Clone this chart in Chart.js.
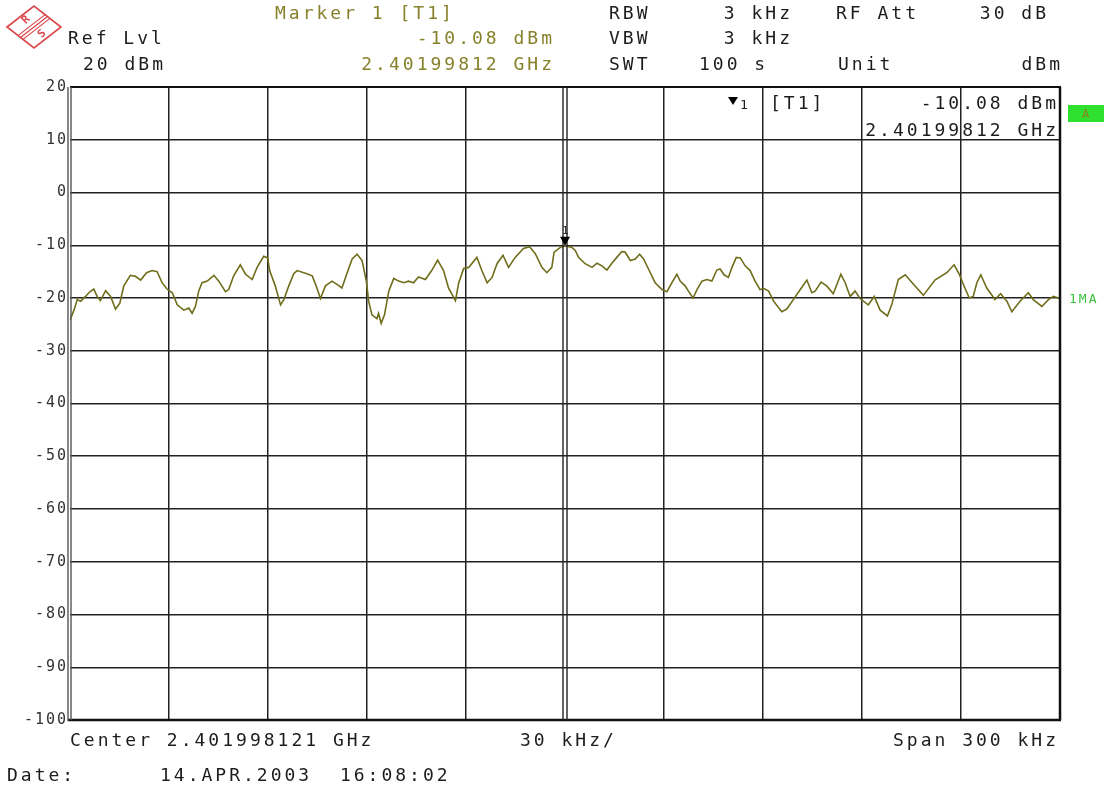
<!DOCTYPE html>
<html>
<head>
<meta charset="utf-8">
<script src="https://cdn.jsdelivr.net/npm/chart.js@4.4.1/dist/chart.umd.min.js"></script>
<style>
  html, body { margin: 0; padding: 0; background: #ffffff; }
  #wrap { position: relative; width: 1112px; height: 787px; }
</style>
</head>
<body>
<div id="wrap"><canvas id="spectrum"></canvas></div>
<script>
// Sweep trace: frequency offset from centre (kHz) and measured level (dBm)
const freqOffsetKHz = [
  -150.0, -148.8, -147.8, -146.8, -145.3, -144.3, -142.8, -141.8, -140.8, -139.2,
  -137.7, -136.2, -134.9, -133.7, -131.7, -130.2, -128.6, -126.8, -125.1, -123.6,
  -122.1, -120.6, -119.0, -117.5, -115.5, -114.0, -113.0, -112.0, -111.0, -110.0,
  -108.4, -106.4, -104.9, -102.9, -101.9, -100.4, -98.4, -96.8, -94.8, -93.3,
  -91.3, -90.1, -89.5, -87.8, -86.2, -85.2, -83.7, -82.2, -81.2, -78.2,
  -76.6, -75.6, -74.1, -72.6, -70.6, -69.1, -67.6, -66.0, -64.5, -63.0,
  -61.5, -60.2, -59.5, -58.5, -57.0, -56.5, -55.7, -54.7, -53.4, -51.9,
  -50.4, -48.9, -47.4, -45.9, -44.4, -42.3, -40.3, -38.6, -36.8, -35.3,
  -33.2, -32.2, -30.7, -29.2, -26.7, -25.2, -23.6, -22.1, -20.6, -18.8,
  -17.1, -15.1, -12.6, -10.7, -9.0, -7.0, -5.5, -4.0, -3.3, -1.4,
  0.0, 0.6, 2.1, 3.1, 4.1, 6.1, 8.2, 9.7, 11.2, 12.7,
  14.2, 15.7, 17.2, 18.2, 19.8, 21.3, 22.6, 23.8, 25.3, 27.3,
  29.4, 30.9, 32.4, 33.9, 34.9, 36.4, 37.4, 38.8, 40.0, 41.5,
  43.0, 44.5, 46.0, 47.0, 48.2, 49.5, 50.6, 51.9, 53.1, 54.6,
  56.1, 57.6, 59.1, 60.3, 61.7, 63.2, 65.7, 67.2, 69.2, 71.3,
  73.3, 74.8, 75.8, 77.6, 79.3, 81.3, 83.6, 84.9, 86.4, 87.9,
  89.4, 91.9, 93.7, 95.5, 97.7, 99.0, 101.0, 103.1, 105.6, 108.6,
  112.1, 115.7, 117.9, 119.5, 120.7, 122.5, 123.7, 124.8, 126.0, 127.8,
  130.3, 132.0, 133.9, 135.4, 137.9, 140.4, 141.9, 144.5, 146.5, 148.0,
  150.0
];
const levelDbm = [
  -24.2, -22.3, -20.3, -20.6, -19.7, -19.0, -18.3, -19.7, -20.5, -18.6,
  -19.7, -22.1, -21.0, -17.7, -15.7, -15.9, -16.6, -15.2, -14.8, -15.0,
  -17.1, -18.3, -19.0, -21.3, -22.3, -21.9, -22.9, -21.6, -18.7, -17.1,
  -16.8, -15.7, -16.8, -18.8, -18.4, -15.8, -13.7, -15.5, -16.5, -14.2,
  -12.1, -12.4, -14.8, -17.7, -21.3, -20.3, -17.7, -15.4, -14.8, -15.4,
  -15.8, -17.4, -20.1, -17.7, -16.8, -17.4, -18.1, -15.2, -12.6, -11.7,
  -12.9, -16.8, -20.6, -23.2, -23.9, -22.9, -24.8, -23.2, -18.7, -16.3,
  -16.8, -17.1, -16.8, -17.1, -16.0, -16.5, -14.7, -12.8, -14.8, -18.1,
  -20.5, -17.1, -14.4, -14.2, -12.3, -14.8, -17.1, -16.1, -13.5, -11.9,
  -14.2, -12.3, -10.6, -10.3, -11.6, -14.2, -15.2, -14.2, -11.3, -10.4,
  -10.08, -10.2, -10.4, -11.0, -12.3, -13.5, -14.2, -13.4, -13.9, -14.7,
  -13.4, -12.3, -11.2, -11.3, -12.9, -12.6, -11.7, -12.6, -14.5, -17.1,
  -18.4, -18.8, -17.1, -15.5, -16.8, -17.7, -18.7, -20.0, -18.4, -16.8,
  -16.5, -16.8, -14.7, -14.5, -15.6, -16.1, -14.2, -12.3, -12.4, -13.9,
  -14.8, -16.8, -18.4, -18.2, -18.7, -20.6, -22.6, -22.1, -20.3, -18.4,
  -16.6, -19.0, -18.7, -17.0, -17.7, -19.2, -15.5, -17.1, -19.7, -18.7,
  -20.1, -21.3, -19.7, -22.3, -23.4, -21.3, -16.5, -15.6, -17.4, -19.5,
  -16.6, -15.2, -13.7, -15.5, -17.4, -20.0, -19.7, -17.1, -15.6, -18.1,
  -20.3, -19.2, -20.6, -22.6, -20.6, -19.0, -20.3, -21.6, -20.3, -19.7,
  -20.1
];

// Axis ranges: 30 kHz per division over a 300 kHz span, 10 dB per division
const spanKHz = [-150, 150];
const freqStepKHz = 30;
const levelRangeDbm = [-100, 20];
const levelStepDb = 10;

// Marker 1 and the trace reference line
const markerFreqKHz = [0];
const markerLevelDbm = [-10.08];
const traceRefLevelDbm = [-20];

const MONO = "'DejaVu Sans Mono', 'Liberation Mono', monospace";
const INK = '#1c1c1c';
const OLIVE = '#87812b';
const TRACE = '#6f6c1a';

function drawText(ctx, s, x, yb, align, color, size, spacing) {
  ctx.font = size + 'px ' + MONO;
  ctx.letterSpacing = spacing + 'px';
  ctx.fillStyle = color;
  ctx.textAlign = align;
  ctx.textBaseline = 'alphabetic';
  ctx.fillText(s, align === 'right' ? x + spacing : x, yb);
}

function line(ctx, x1, y1, x2, y2, color, w) {
  ctx.beginPath();
  ctx.strokeStyle = color;
  ctx.lineWidth = w;
  ctx.moveTo(x1, y1);
  ctx.lineTo(x2, y2);
  ctx.stroke();
}

function drawLogo(ctx) {
  const cx = 34, cy = 27, hw = 27, hh = 21;
  const red = '#d8474a';
  ctx.save();
  ctx.strokeStyle = red;
  ctx.lineWidth = 1.6;
  ctx.beginPath();
  ctx.moveTo(cx - hw, cy); ctx.lineTo(cx, cy - hh);
  ctx.lineTo(cx + hw, cy); ctx.lineTo(cx, cy + hh);
  ctx.closePath();
  ctx.stroke();
  // diagonal band from the lower-left edge to the upper-right edge
  const ax = cx - hw / 2, ay = cy + hh / 2, bx = cx + hw / 2, by = cy - hh / 2;
  const len = Math.hypot(bx - ax, by - ay);
  const nx = -(by - ay) / len, ny = (bx - ax) / len;
  [-3, 0, 3].forEach(o => line(ctx, ax + nx * o, ay + ny * o, bx + nx * o, by + ny * o, red, 1.2));
  ctx.fillStyle = red;
  ctx.font = 'bold 11px ' + MONO;
  ctx.letterSpacing = '0px';
  ctx.textAlign = 'center';
  ctx.textBaseline = 'middle';
  ctx.save(); ctx.translate(cx - 8, cy - 7); ctx.rotate(-Math.PI / 4); ctx.fillText('R', 0, 0); ctx.restore();
  ctx.save(); ctx.translate(cx + 8, cy + 7); ctx.rotate(-Math.PI / 4); ctx.fillText('S', 0, 0); ctx.restore();
  ctx.restore();
}

const analyzerFrame = {
  id: 'analyzerFrame',
  beforeDraw(chart) {
    // tick labels use the analyser's wide character pitch
    chart.ctx.letterSpacing = '2px';
  },
  afterDatasetsDraw(chart) {
    const { ctx, chartArea: a, scales: { x, y } } = chart;
    ctx.save();
    // plot frame
    line(ctx, a.left, a.top, a.right + 1, a.top, '#111', 2);
    line(ctx, a.right, a.top, a.right, a.bottom, '#111', 2.5);
    line(ctx, a.left - 2, a.bottom, a.right + 1, a.bottom, '#111', 2.5);
    line(ctx, a.left - 2, a.top, a.left - 2, a.bottom + 1, '#555', 1.4);
    line(ctx, a.left + 1, a.top, a.left + 1, a.bottom, '#555', 1.4);
    // centre frequency / marker double line
    const cxp = x.getPixelForValue(markerFreqKHz[0]);
    line(ctx, cxp - 2, a.top, cxp - 2, a.bottom, '#222', 1.4);
    line(ctx, cxp + 2, a.top, cxp + 2, a.bottom, '#222', 1.4);

    // marker 1 symbol on the trace
    const mx = x.getPixelForValue(markerFreqKHz[0]);
    const my = y.getPixelForValue(markerLevelDbm[0]);
    ctx.beginPath();
    ctx.fillStyle = '#000';
    ctx.moveTo(mx - 5, my - 9);
    ctx.lineTo(mx + 5, my - 9);
    ctx.lineTo(mx, my);
    ctx.closePath();
    ctx.fill();
    drawText(ctx, '1', mx - 3, my - 12, 'left', '#222', 11, 0);

    // marker readout inside the grid
    ctx.beginPath();
    ctx.fillStyle = '#000';
    ctx.moveTo(728, 97); ctx.lineTo(738, 97); ctx.lineTo(733, 105);
    ctx.closePath();
    ctx.fill();
    drawText(ctx, '1', 740, 109, 'left', INK, 13, 0);
    drawText(ctx, '[T1]', 770, 109, 'left', INK, 18, 3);
    drawText(ctx, '-10.08 dBm', 1056, 109, 'right', INK, 18, 3);
    drawText(ctx, '2.40199812 GHz', 1056, 136, 'right', INK, 18, 3);

    // trace reference label and trace status box
    const ry = y.getPixelForValue(traceRefLevelDbm[0]);
    drawText(ctx, '1MA', 1069, ry + 5, 'left', '#3cbf3c', 13, 2);
    ctx.fillStyle = '#2fe02f';
    ctx.fillRect(1068, 105, 36, 17);
    drawText(ctx, 'A', 1082, 118, 'left', '#8a8320', 12, 0);

    // header
    drawLogo(ctx);
    drawText(ctx, 'Ref Lvl', 68, 44, 'left', INK, 18, 3);
    drawText(ctx, '20 dBm', 83, 70, 'left', INK, 18, 3);
    drawText(ctx, 'Marker 1 [T1]', 275, 19, 'left', OLIVE, 18, 3);
    drawText(ctx, '-10.08 dBm', 552, 44, 'right', OLIVE, 18, 3);
    drawText(ctx, '2.40199812 GHz', 552, 70, 'right', OLIVE, 18, 3);
    drawText(ctx, 'RBW', 609, 19, 'left', INK, 18, 3);
    drawText(ctx, 'VBW', 609, 44, 'left', INK, 18, 3);
    drawText(ctx, 'SWT', 609, 70, 'left', INK, 18, 3);
    drawText(ctx, '3 kHz', 790, 19, 'right', INK, 18, 3);
    drawText(ctx, '3 kHz', 790, 44, 'right', INK, 18, 3);
    drawText(ctx, '100 s', 699, 70, 'left', INK, 18, 3);
    drawText(ctx, 'RF Att', 836, 19, 'left', INK, 18, 3);
    drawText(ctx, 'Unit', 838, 70, 'left', INK, 18, 3);
    drawText(ctx, '30 dB', 1046, 19, 'right', INK, 18, 3);
    drawText(ctx, 'dBm', 1060, 70, 'right', INK, 18, 3);

    // footer
    drawText(ctx, 'Center 2.401998121 GHz', 70, 746, 'left', INK, 18, 3);
    drawText(ctx, '30 kHz/', 520, 746, 'left', INK, 18, 3);
    drawText(ctx, 'Span 300 kHz', 1056, 746, 'right', INK, 18, 3);
    drawText(ctx, 'Date:', 7, 781, 'left', INK, 18, 3);
    drawText(ctx, '14.APR.2003  16:08:02', 160, 781, 'left', INK, 18, 3);
    ctx.restore();
  }
};

const points = freqOffsetKHz.map((f, i) => ({ x: f, y: levelDbm[i] }));

new Chart(document.getElementById('spectrum'), {
  type: 'line',
  data: {
    datasets: [{
      label: '1MA',
      data: points,
      borderColor: TRACE,
      borderWidth: 1.6,
      pointRadius: 0,
      tension: 0,
      fill: false
    }]
  },
  options: {
    responsive: true,
    maintainAspectRatio: false,
    animation: false,
    events: [],
    layout: { padding: { left: 0, top: 87, right: 52, bottom: 67 } },
    plugins: { legend: { display: false }, tooltip: { enabled: false } },
    scales: {
      x: {
        type: 'linear',
        min: spanKHz[0],
        max: spanKHz[1],
        border: { display: false },
        ticks: { display: false, stepSize: freqStepKHz },
        grid: {
          drawTicks: false,
          lineWidth: 1.5,
          color: c => (c.tick && (c.tick.value === spanKHz[0] || c.tick.value === spanKHz[1] || c.tick.value === markerFreqKHz[0])) ? 'rgba(0,0,0,0)' : '#222'
        },
        afterFit: s => { s.height = 0; }
      },
      y: {
        min: levelRangeDbm[0],
        max: levelRangeDbm[1],
        border: { display: false },
        ticks: {
          stepSize: levelStepDb,
          padding: 2,
          color: '#333',
          font: { family: MONO, size: 15 },
          callback: v => String(v)
        },
        grid: {
          drawTicks: false,
          lineWidth: 1.5,
          color: c => (c.tick && (c.tick.value === levelRangeDbm[0] || c.tick.value === levelRangeDbm[1])) ? 'rgba(0,0,0,0)' : '#222'
        },
        afterFit: s => { s.width = 70; }
      }
    }
  },
  plugins: [analyzerFrame]
});
</script>
</body>
</html>
